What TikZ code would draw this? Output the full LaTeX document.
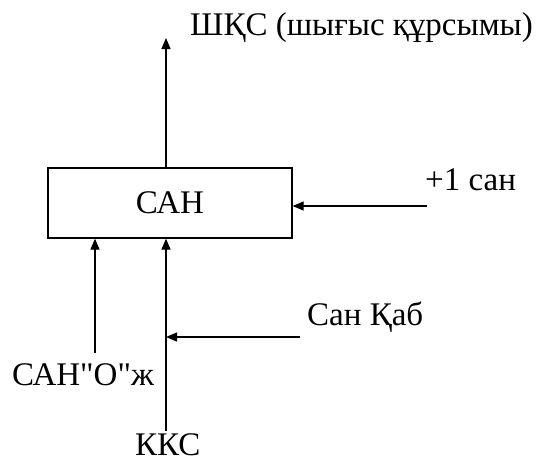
\documentclass[tikz,border=0pt]{standalone}
\usepackage{fontspec}
\setmainfont{Liberation Serif}[Ligatures=TeXOff]
\usetikzlibrary{arrows.meta}
\begin{document}
\begin{tikzpicture}[x=1pt,y=-1pt,
  lbl/.style={inner sep=0pt,anchor=base west,font=\fontsize{33}{38}\selectfont},
  blk/.style={draw,line width=1.3pt,minimum width=244pt,minimum height=70pt,inner sep=0pt,font=\fontsize{33}{38}\selectfont},
  arr/.style={line width=1.3pt,-{Triangle[length=11pt,width=9pt]}}]
\useasboundingbox (0,0) rectangle (537,463);
\node[blk] (san) at (170,203) {САН};
\coordinate (out) at (166,38);
\coordinate (inA) at (427,206);
\coordinate (inB) at (95,353);
\coordinate (inC) at (166,431);
\coordinate (inD) at (300,337);
\coordinate (joinD) at (166,337);
\node[lbl] (lout) at (190,35) {ШҚС (шығыс құрсымы)};
\node[lbl] (lA) at (425,190) {+1 сан};
\node[lbl] (lD) at (307,325) {Сан Қаб};
\node[lbl] (lB) at (12,385) {САН"О"ж};
\node[lbl] (lC) at (135,455) {ККС};
\draw[arr] (out |- san.north) -- (out);
\draw[arr] (inA) -- (inA -| san.east);
\draw[arr] (inB) -- (inB |- san.south);
\draw[arr] (inC) -- (inC |- san.south);
\draw[arr] (inD) -- (joinD);
\end{tikzpicture}
\end{document}
